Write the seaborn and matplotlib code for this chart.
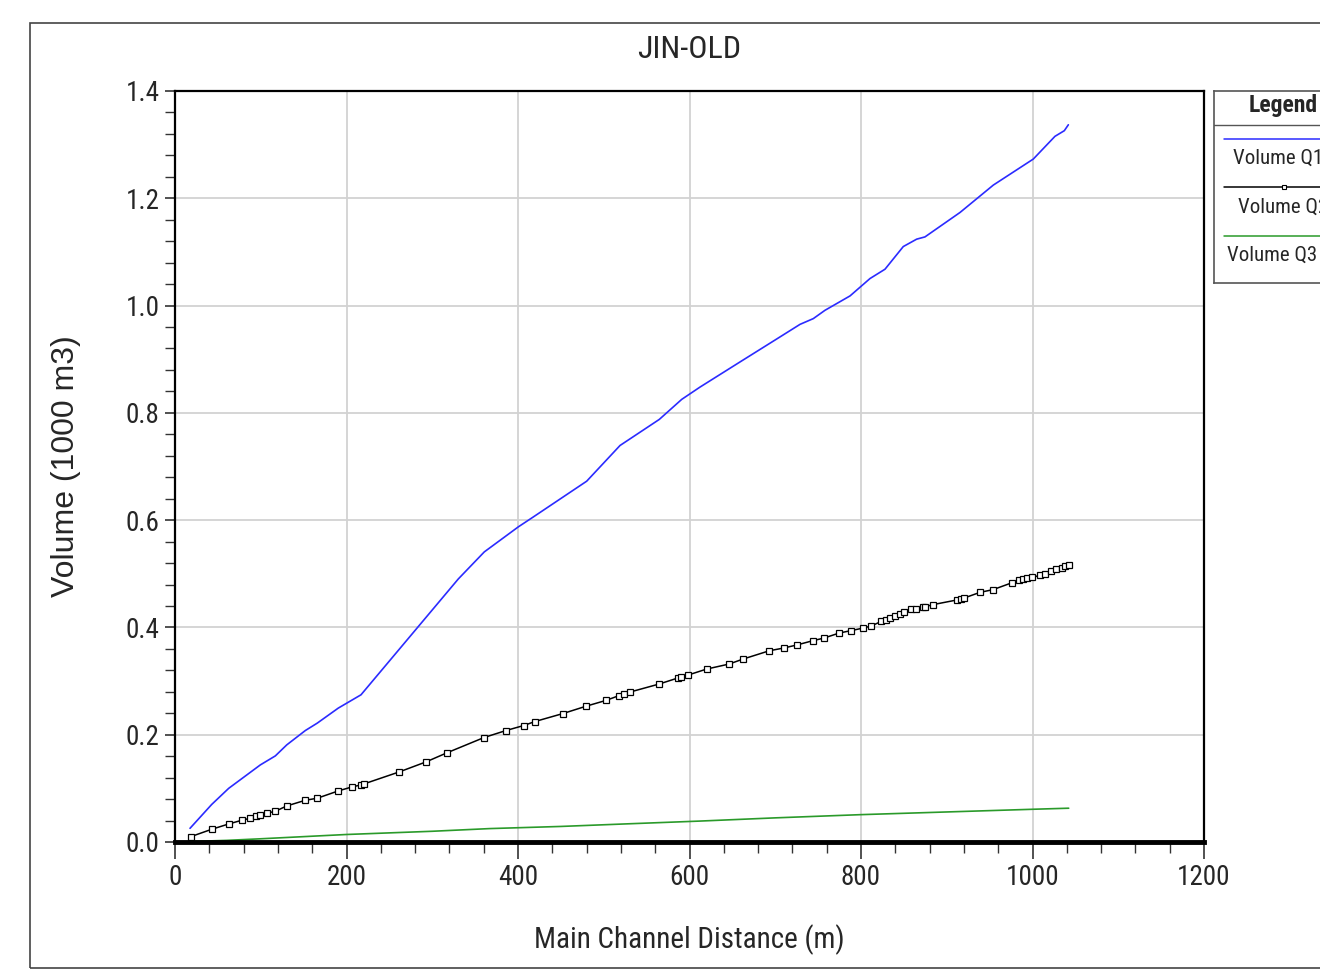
import numpy as np
import pandas as pd
import matplotlib
matplotlib.use("Agg")
import matplotlib.pyplot as plt
import seaborn as sns
from matplotlib import font_manager
from matplotlib.font_manager import FontProperties
from matplotlib.patches import Rectangle
from matplotlib.ticker import MultipleLocator, FormatStrFormatter

# Volume Q2 stations (m) and volumes (1000 m3)
q2_dist = [18.3, 42.8, 62.6, 77.8, 87.5, 94.1, 99.5, 106.9, 117.0, 130.3,
           152.0, 165.9, 190.4, 206.4, 216.9, 220.4, 261.6, 292.7, 316.9, 360.3,
           386.0, 406.6, 419.8, 452.5, 479.7, 502.3, 518.2, 523.2, 530.3, 564.4,
           586.2, 590.1, 598.3, 620.0, 646.1, 662.4, 693.1, 709.8, 725.0, 743.7,
           756.9, 774.7, 788.0, 802.7, 811.7, 823.7, 829.2, 834.2, 839.7, 845.5,
           850.5, 858.3, 863.8, 871.9, 875.0, 883.6, 911.9, 916.2, 920.4, 938.8,
           953.9, 976.4, 983.9, 988.9, 993.9, 999.8, 1008.7, 1014.9, 1021.2, 1027.8,
           1034.4, 1038.3, 1042.2]
q2_vol = [0.0099, 0.0237, 0.0336, 0.0405, 0.0442, 0.0485, 0.0498, 0.0536, 0.0573, 0.0672,
          0.0778, 0.0816, 0.0952, 0.1027, 0.1064, 0.1083, 0.1307, 0.1493, 0.1661, 0.1947,
          0.2078, 0.2171, 0.2246, 0.2395, 0.2533, 0.2638, 0.2731, 0.2750, 0.2794, 0.2944,
          0.3056, 0.3074, 0.3112, 0.3224, 0.3317, 0.3410, 0.3565, 0.3616, 0.3672, 0.3752,
          0.3802, 0.3896, 0.3939, 0.3989, 0.4026, 0.4112, 0.4138, 0.4168, 0.4219, 0.4256,
          0.4293, 0.4336, 0.4344, 0.4381, 0.4387, 0.4424, 0.4512, 0.4531, 0.4549, 0.4654,
          0.4704, 0.4835, 0.4885, 0.4904, 0.4915, 0.4934, 0.4971, 0.5003, 0.5059, 0.5096,
          0.5115, 0.5139, 0.5158]

# Volume Q1
q1_dist = [17.5, 42.8, 62.6, 99.5, 117.0, 130.3, 152.0, 165.9, 190.4, 216.9,
           330.4, 360.7, 382.9, 400.4, 417.9, 480.1, 519.0, 564.8, 590.9, 612.2,
           660.0, 700.0, 728.9, 744.4, 758.0, 787.2, 810.5, 828.0, 849.3, 864.9,
           874.6, 915.5, 954.3, 1000.9, 1026.2, 1037.1, 1041.8]
q1_vol = [0.0255, 0.070, 0.100, 0.1437, 0.1605, 0.181, 0.2078, 0.2216, 0.2496, 0.2744,
          0.4904, 0.5408, 0.5669, 0.5875, 0.606, 0.6726, 0.7392, 0.7878, 0.8251, 0.848,
          0.896, 0.936, 0.965, 0.9757, 0.9912, 1.018, 1.0504, 1.0678, 1.110, 1.1238,
          1.128, 1.1736, 1.2246, 1.2731, 1.3155, 1.326, 1.337]

# Volume Q3
q3_dist = [18.3, 60, 100, 150, 200, 250, 300, 367, 450, 530,
           612, 700, 800, 900, 1000, 1042.2]
q3_vol = [0.001, 0.003, 0.006, 0.010, 0.014, 0.017, 0.020, 0.025, 0.029, 0.034,
          0.039, 0.045, 0.051, 0.056, 0.061, 0.063]

legend_labels = ["Volume Q1", "Volume Q2", "Volume Q3"]
series_colors = ["#2b2bff", "#000000", "#2a9a2a"]


# look for a narrow sans face like the original chart uses
def pick_narrow():
    for fam in ["Liberation Sans Narrow", "Arial Narrow", "Roboto Condensed",
                "DejaVu Sans Condensed", "Open Sans Condensed", "Noto Sans Condensed"]:
        try:
            font_manager.findfont(FontProperties(family=fam), fallback_to_default=False)
            return fam, "normal"
        except Exception:
            pass
    for fam in ["Roboto", "Noto Sans", "Open Sans", "DejaVu Sans", "Liberation Sans"]:
        try:
            path = font_manager.findfont(FontProperties(family=fam, stretch="condensed"),
                                         fallback_to_default=False)
        except Exception:
            continue
        low = path.lower()
        if "condensed" in low or "narrow" in low:
            return fam, "condensed"
    return None, None


narrow_fam, narrow_stretch = pick_narrow()
if narrow_fam is None:
    narrow_fam, narrow_stretch, shrink = "Liberation Sans", "normal", 0.87
else:
    shrink = 1.0

sns.set_style("white")
plt.rcParams["font.family"] = [narrow_fam, "DejaVu Sans"]
plt.rcParams["font.stretch"] = narrow_stretch

W, H = 1320, 973
fig = plt.figure(figsize=(W / 100, H / 100), dpi=100)

# outer frame
fig.patches.append(Rectangle((30 / W, 1 - 968 / H), 1.5, (968 - 23) / H,
                             transform=fig.transFigure, fill=False,
                             edgecolor="#444444", linewidth=1.2))

ax = fig.add_axes([175 / W, 1 - 842 / H, (1204 - 175) / W, (842 - 91) / H])

df1 = pd.DataFrame({"dist": q1_dist, "vol": q1_vol})
df2 = pd.DataFrame({"dist": q2_dist, "vol": q2_vol})
df3 = pd.DataFrame({"dist": q3_dist, "vol": q3_vol})

sns.lineplot(data=df1, x="dist", y="vol", ax=ax, color=series_colors[0], linewidth=1.2)
sns.lineplot(data=df2, x="dist", y="vol", ax=ax, color=series_colors[1], linewidth=1.1,
             marker="s", markersize=4, markerfacecolor="white",
             markeredgecolor="black", markeredgewidth=0.9)
sns.lineplot(data=df3, x="dist", y="vol", ax=ax, color=series_colors[2], linewidth=1.2)

ax.set_xlim(0, 1200)
ax.set_ylim(0, 1.4)
ax.xaxis.set_major_locator(MultipleLocator(200))
ax.xaxis.set_minor_locator(MultipleLocator(40))
ax.yaxis.set_major_locator(MultipleLocator(0.2))
ax.yaxis.set_minor_locator(MultipleLocator(0.04))
ax.yaxis.set_major_formatter(FormatStrFormatter("%.1f"))
ax.grid(True, which="major", color="#d2d2d2", linewidth=1.3)
ax.set_axisbelow(True)
ax.tick_params(which="both", direction="out", color="#333333")
ax.tick_params(axis="x", which="major", length=12, width=1.2, labelsize=19.5 * shrink, pad=4)
ax.tick_params(axis="x", which="minor", length=8, width=1.0)
ax.tick_params(axis="y", which="major", length=7, width=1.2, labelsize=19.5 * shrink, pad=4)
ax.tick_params(axis="y", which="minor", length=7, width=1.0)
ax.tick_params(left=True, bottom=True, which="both")

for side in ["top", "right", "left"]:
    ax.spines[side].set_color("black")
    ax.spines[side].set_linewidth(1.6)
ax.spines["bottom"].set_color("black")
ax.spines["bottom"].set_linewidth(3.5)

ax.set_xlabel("Main Channel Distance (m)", fontsize=21 * shrink, labelpad=24)
ax.set_ylabel("Volume (1000 m3)", fontsize=23, labelpad=32,
              family=["Liberation Sans", "DejaVu Sans"], stretch="normal")
ax.set_title("JIN-OLD", fontsize=23 * shrink, pad=24)

# legend box drawn in pixel-like coordinates
lax = fig.add_axes([1214 / W, 1 - 283 / H, (1352 - 1214) / W, (283 - 91) / H])
lax.set_xlim(1214, 1352)
lax.set_ylim(283, 91)
lax.set_xticks([])
lax.set_yticks([])
for s in lax.spines.values():
    s.set_color("#555555")
    s.set_linewidth(1.2)
lax.text(1283, 106, "Legend", ha="center", va="center", fontsize=17 * shrink,
         fontweight="bold")
lax.plot([1214, 1352], [125, 125], color="#555555", linewidth=1.0)
line_y = [139, 187, 236]
text_y = [158, 207, 255]
text_x = [1233, 1238, 1227]
for i, lab in enumerate(legend_labels):
    lax.plot([1224, 1345], [line_y[i], line_y[i]], color=series_colors[i], linewidth=1.1)
    if i == 1:
        lax.plot([1284], [line_y[i]], marker="s", markersize=3.5, markerfacecolor="white",
                 markeredgecolor="black", markeredgewidth=0.8)
    lax.text(text_x[i], text_y[i], lab, ha="left", va="center", fontsize=15 * shrink)

fig.savefig("out.png", dpi=100)
